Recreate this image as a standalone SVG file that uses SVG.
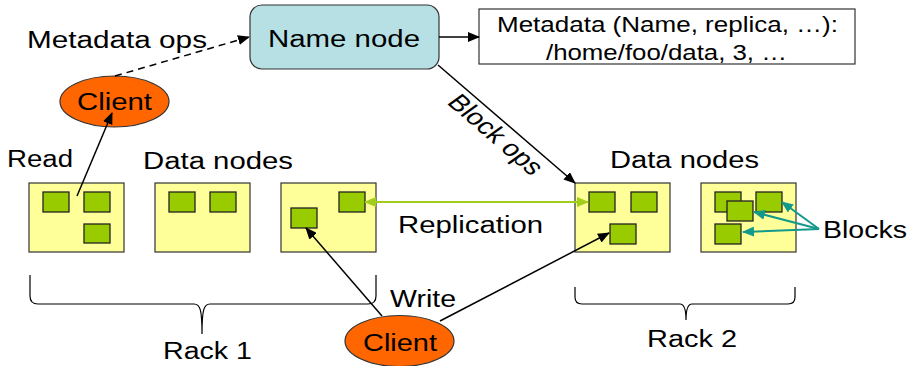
<svg xmlns="http://www.w3.org/2000/svg" width="915" height="366" viewBox="0 0 915 366">
  <style>
    text { font-family: "Liberation Sans", Arial, sans-serif; font-size: 23px; fill: #000; }
    .small { font-size: 21.5px; }
    .dn { fill: #ffff99; stroke: #333; stroke-width: 1.2; }
    .blk { fill: #99cc00; stroke: #222; stroke-width: 1.3; }
    .client { fill: #ff6600; stroke: #333; stroke-width: 1.2; }
    .edge { fill: none; stroke: #000; stroke-width: 1.5; }
    .brace { fill: none; stroke: #000; stroke-width: 1.2; }
    .repl { fill: none; stroke: #a2cd1c; stroke-width: 2; }
    .tealline { fill: none; stroke: #13998c; stroke-width: 2; }
  </style>
  <defs>
    <marker id="arrow" viewBox="0 0 12 10" refX="11" refY="5" markerWidth="12" markerHeight="10" markerUnits="userSpaceOnUse" orient="auto">
      <path d="M0,0 L12,5 L0,10 z" fill="#000"/>
    </marker>
    <marker id="arrowGreen" viewBox="0 0 12 10" refX="11" refY="5" markerWidth="12" markerHeight="10" markerUnits="userSpaceOnUse" orient="auto-start-reverse">
      <path d="M0,0 L12,5 L0,10 z" fill="#a2cd1c"/>
    </marker>
    <marker id="arrowTeal" viewBox="0 0 12 10" refX="11" refY="5" markerWidth="12" markerHeight="10" markerUnits="userSpaceOnUse" orient="auto">
      <path d="M0,0 L12,5 L0,10 z" fill="#13998c"/>
    </marker>
  </defs>

  <!-- name node and its metadata table -->
  <g id="name-node">
    <rect x="250" y="5" width="189" height="64" rx="12" ry="12" fill="#b7e0e4" stroke="#333" stroke-width="1.2"/>
    <text x="268" y="47" textLength="152" lengthAdjust="spacingAndGlyphs">Name node</text>
  </g>
  <g id="metadata">
    <rect x="479" y="9" width="376" height="55" fill="#fff" stroke="#333" stroke-width="1.2"/>
    <text class="small" x="497" y="32" textLength="341" lengthAdjust="spacingAndGlyphs">Metadata (Name, replica, …):</text>
    <text class="small" x="546" y="60" textLength="241" lengthAdjust="spacingAndGlyphs">/home/foo/data, 3, …</text>
  </g>

  <!-- clients -->
  <g id="client-read">
    <ellipse cx="114.5" cy="101.5" rx="54.5" ry="25.5" class="client"/>
    <text x="77" y="110" textLength="75" lengthAdjust="spacingAndGlyphs">Client</text>
  </g>
  <g id="client-write">
    <ellipse cx="399.5" cy="341" rx="54.5" ry="25.5" class="client"/>
    <text x="363" y="351" textLength="74" lengthAdjust="spacingAndGlyphs">Client</text>
  </g>

  <!-- rack 1 data nodes -->
  <g id="datanode-1">
    <rect x="29" y="183" width="95" height="69" class="dn"/>
    <rect x="43" y="192" width="26" height="20" class="blk"/>
    <rect x="84" y="192" width="26" height="20" class="blk"/>
    <rect x="84" y="224" width="26" height="19" class="blk"/>
  </g>
  <g id="datanode-2">
    <rect x="155" y="183" width="95" height="69" class="dn"/>
    <rect x="169" y="192" width="26" height="20" class="blk"/>
    <rect x="210" y="192" width="26" height="20" class="blk"/>
  </g>
  <g id="datanode-3">
    <rect x="281" y="183" width="95" height="69" class="dn"/>
    <rect x="339" y="192" width="26" height="20" class="blk"/>
    <rect x="291" y="208" width="26" height="20" class="blk"/>
  </g>

  <!-- rack 2 data nodes -->
  <g id="datanode-4">
    <rect x="575" y="183" width="95" height="69" class="dn"/>
    <rect x="589" y="192" width="26" height="20" class="blk"/>
    <rect x="631" y="192" width="26" height="20" class="blk"/>
    <rect x="610" y="224" width="26" height="20" class="blk"/>
  </g>
  <g id="datanode-5">
    <rect x="701" y="183" width="95" height="69" class="dn"/>
    <rect x="715" y="192" width="26" height="20" class="blk"/>
    <rect x="756" y="192" width="26" height="20" class="blk"/>
    <rect x="727" y="201" width="26" height="20" class="blk"/>
    <rect x="715" y="224" width="26" height="20" class="blk"/>
  </g>

  <!-- connectors -->
  <g id="connectors">
    <line x1="115" y1="76" x2="249" y2="37" class="edge" stroke-dasharray="7,5" marker-end="url(#arrow)"/>
    <line x1="439" y1="37" x2="479" y2="37" class="edge" marker-end="url(#arrow)"/>
    <line x1="438" y1="65" x2="575" y2="183" class="edge" marker-end="url(#arrow)"/>
    <line x1="77" y1="196" x2="112" y2="113" class="edge" marker-end="url(#arrow)"/>
    <line x1="382" y1="316" x2="306" y2="228" class="edge" marker-end="url(#arrow)"/>
    <line x1="440" y1="321" x2="609" y2="233" class="edge" marker-end="url(#arrow)"/>
    <line x1="365" y1="202" x2="588" y2="202" class="repl" marker-start="url(#arrowGreen)" marker-end="url(#arrowGreen)"/>
    <line x1="819" y1="229" x2="782" y2="202" class="tealline" marker-end="url(#arrowTeal)"/>
    <line x1="819" y1="229" x2="754" y2="212" class="tealline" marker-end="url(#arrowTeal)"/>
    <line x1="819" y1="229" x2="743" y2="232" class="tealline" marker-end="url(#arrowTeal)"/>
  </g>

  <!-- rack braces -->
  <path class="brace" d="M30,275 L30,296 C30,301 32,304 38,304 L194,304 C200,304 202,309 202,334 C202,309 204,304 210,304 L368,304 C374,304 376,301 376,296 L376,275"/>
  <path class="brace" d="M575,287 L575,297 C575,302 577,304 582,304 L680,304 C684,304 686,308 686,320 C686,308 688,304 692,304 L788,304 C793,304 795,302 795,297 L795,287"/>

  <!-- labels -->
  <text x="27" y="48" textLength="180" lengthAdjust="spacingAndGlyphs">Metadata ops</text>
  <text transform="translate(446,103) scale(1.27,1) rotate(47.6)">Block ops</text>
  <text x="7" y="167" textLength="66" lengthAdjust="spacingAndGlyphs">Read</text>
  <text x="143" y="169" textLength="150" lengthAdjust="spacingAndGlyphs">Data nodes</text>
  <text x="610" y="168" textLength="149" lengthAdjust="spacingAndGlyphs">Data nodes</text>
  <text x="398" y="233" textLength="145" lengthAdjust="spacingAndGlyphs">Replication</text>
  <text x="823" y="238" textLength="84" lengthAdjust="spacingAndGlyphs">Blocks</text>
  <text x="390" y="307" textLength="66" lengthAdjust="spacingAndGlyphs">Write</text>
  <text x="163" y="359" textLength="89" lengthAdjust="spacingAndGlyphs">Rack 1</text>
  <text x="647" y="347" textLength="90" lengthAdjust="spacingAndGlyphs">Rack 2</text>
</svg>
